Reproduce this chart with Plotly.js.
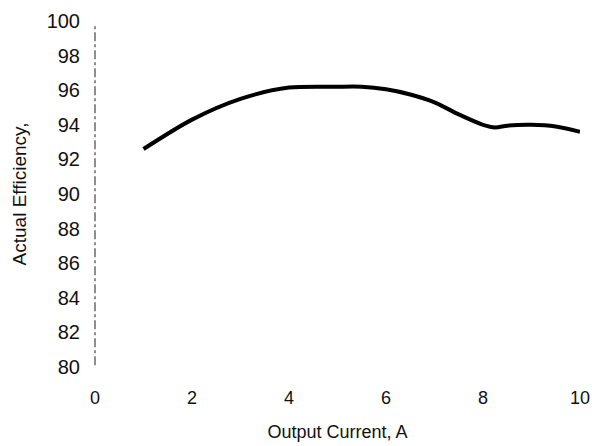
<!DOCTYPE html>
<html>
<head>
<meta charset="utf-8">
<script src="https://cdn.plot.ly/plotly-3.0.1.min.js"></script>
<style>
html,body{margin:0;padding:0;background:#fff;}
#chart{width:592px;height:446px;}
</style>
</head>
<body>
<div id="chart"></div>
<script>
// Data
const currentA = [1, 2, 3, 4, 5, 5.5, 6, 6.5, 7, 7.5, 8, 8.25, 8.5, 9, 9.5, 10];
const efficiency = [92.6, 94.3, 95.5, 96.15, 96.2, 96.2, 96.05, 95.75, 95.3, 94.6, 94.0, 93.85, 93.95, 94.0, 93.9, 93.6];
const xTicks = [0, 2, 4, 6, 8, 10];
const yTicks = [80, 82, 84, 86, 88, 90, 92, 94, 96, 98, 100];
const xTitle = "Output Current, A";
const yTitle = "Actual Efficiency,";

const trace = {
  x: currentA,
  y: efficiency,
  type: "scatter",
  mode: "lines",
  line: {color: "#000", width: 4, shape: "spline", smoothing: 0.8},
  hoverinfo: "skip"
};

const layout = {
  width: 592,
  height: 446,
  margin: {l: 95, r: 12, t: 21, b: 79},
  paper_bgcolor: "#fff",
  plot_bgcolor: "#fff",
  showlegend: false,
  font: {family: "'Liberation Sans', Arial, sans-serif", color: "#111"},
  xaxis: {
    range: [0, 10],
    tickvals: xTicks,
    ticktext: xTicks.map(String),
    showgrid: false,
    zeroline: false,
    showline: false,
    ticks: "",
    ticklabelstandoff: 18,
    tickfont: {size: 18, color: "#111"},
    title: {text: xTitle, font: {size: 18, color: "#111"}, standoff: 18}
  },
  yaxis: {
    range: [80, 100],
    tickvals: yTicks,
    ticktext: yTicks.map(String),
    showgrid: false,
    zeroline: false,
    showline: false,
    ticks: "",
    ticklabelstandoff: 14,
    tickfont: {size: 20, color: "#111"},
    title: {text: yTitle, font: {size: 19, color: "#111"}, standoff: 14}
  },
  shapes: [{
    type: "line",
    xref: "paper", yref: "paper",
    x0: 0, x1: 0, y0: 0.005, y1: 0.99,
    line: {color: "#444", width: 1.2, dash: "9px,3px,3px,3px"}
  }]
};

Plotly.newPlot("chart", [trace], layout, {displayModeBar: false, staticPlot: true});
</script>
</body>
</html>
